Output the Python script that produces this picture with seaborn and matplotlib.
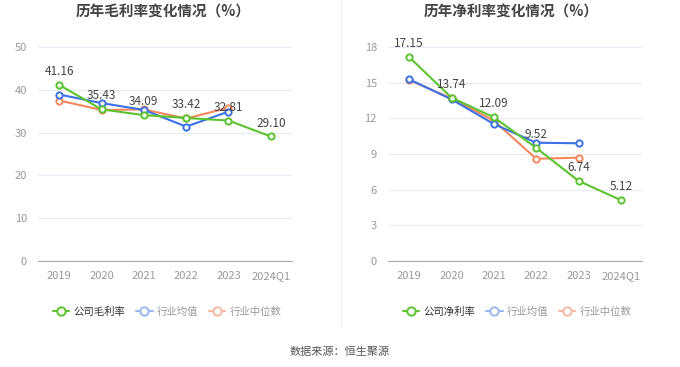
import numpy as np
import pandas as pd
import matplotlib
matplotlib.use('Agg')
import matplotlib.pyplot as plt
import seaborn as sns
from matplotlib.lines import Line2D

years = ['2019', '2020', '2021', '2022', '2023', '2024Q1']

# 毛利率
gross_company = [41.16, 35.43, 34.09, 33.42, 32.81, 29.10]
gross_avg = [38.9, 36.9, 35.3, 31.4, 34.9]
gross_median = [37.5, 35.3, 35.4, 33.3, 35.8]

# 净利率
net_company = [17.15, 13.74, 12.09, 9.52, 6.74, 5.12]
net_avg = [15.28, 13.6, 11.52, 9.95, 9.9]
net_median = [15.22, 13.68, 11.8, 8.6, 8.69]

green = '#5ac32e'
blue = '#3c72e4'
orange = '#f5875c'

sns.set_style('white')
plt.rcParams['font.family'] = ['Noto Sans CJK SC', 'DejaVu Sans']


def long_df(company, avg, median, name):
    rows = []
    for i, v in enumerate(company):
        rows.append((i, v, name))
    for i, v in enumerate(avg):
        rows.append((i, v, '行业均值'))
    for i, v in enumerate(median):
        rows.append((i, v, '行业中位数'))
    return pd.DataFrame(rows, columns=['x', 'y', 'series'])


def draw(ax, company, avg, median, name, ymax, step):
    df = long_df(company, avg, median, name)
    pal = {name: green, '行业均值': blue, '行业中位数': orange}
    for s in ['行业中位数', '行业均值', name]:
        sub = df[df['series'] == s]
        sns.lineplot(data=sub, x='x', y='y', ax=ax, color=pal[s], lw=1.5,
                     marker='o', markersize=4.5, markerfacecolor='white',
                     markeredgecolor=pal[s], markeredgewidth=1.4, legend=False)
    for i, v in enumerate(company):
        ax.annotate(f'{v:.2f}', (i, v), xytext=(0, 5), textcoords='offset points',
                    ha='center', va='bottom', fontsize=8.5, color='#444')
    ax.set_xlim(-0.5, len(years) - 0.5)
    ax.set_ylim(0, ymax)
    ax.set_yticks(np.arange(0, ymax + 0.1, step))
    ax.set_xticks(range(len(years)))
    ax.set_xticklabels(years)
    ax.set_xlabel('')
    ax.set_ylabel('')
    ax.tick_params(axis='y', length=0, labelsize=8, labelcolor='#999', pad=8)
    ax.tick_params(axis='x', length=4, color='#aaa', labelsize=8, labelcolor='#999', pad=3)
    ax.grid(axis='y', color='#e6eaf4', lw=0.8)
    for sp in ['top', 'right', 'left']:
        ax.spines[sp].set_visible(False)
    ax.spines['bottom'].set_color('#aaa')
    ax.set_axisbelow(True)


fig = plt.figure(figsize=(6.8, 3.67), dpi=100)
ax1 = fig.add_axes([38 / 680, 106 / 367, 254 / 680, 214 / 367])
ax2 = fig.add_axes([388 / 680, 106 / 367, 254 / 680, 214 / 367])

draw(ax1, gross_company, gross_avg, gross_median, '公司毛利率', 50, 10)
draw(ax2, net_company, net_avg, net_median, '公司净利率', 18, 3)

fig.text(163 / 680, 1 - 12 / 367, '历年毛利率变化情况（%）', ha='center', va='center',
         fontsize=10.5, fontweight='bold', color='#444')
fig.text(511 / 680, 1 - 12 / 367, '历年净利率变化情况（%）', ha='center', va='center',
         fontsize=10.5, fontweight='bold', color='#444')

fig.add_artist(Line2D([341 / 680, 341 / 680], [1 - 325 / 367, 1], color='#eeeeee', lw=0.8))


def legend(name, cx):
    handles = [
        Line2D([], [], color=green, marker='o', markersize=6, markerfacecolor='white',
               markeredgewidth=1.4, lw=1.5),
        Line2D([], [], color='#9bb7f0', marker='o', markersize=6, markerfacecolor='white',
               markeredgewidth=1.4, lw=1.5),
        Line2D([], [], color='#f8b8a0', marker='o', markersize=6, markerfacecolor='white',
               markeredgewidth=1.4, lw=1.5),
    ]
    leg = fig.legend(handles, [name, '行业均值', '行业中位数'], loc='center',
                     bbox_to_anchor=(cx, 1 - 312 / 367), ncol=3, frameon=False,
                     fontsize=7.5, handlelength=1.6, handletextpad=0.4, columnspacing=1.0)
    for t, c in zip(leg.get_texts(), ['#333', '#999', '#999']):
        t.set_color(c)


legend('公司毛利率', 167 / 680)
legend('公司净利率', 517 / 680)

fig.text(340 / 680, 1 - 352 / 367, '数据来源：恒生聚源', ha='center', va='center',
         fontsize=8, color='#555')

fig.savefig('out.png', dpi=100)
